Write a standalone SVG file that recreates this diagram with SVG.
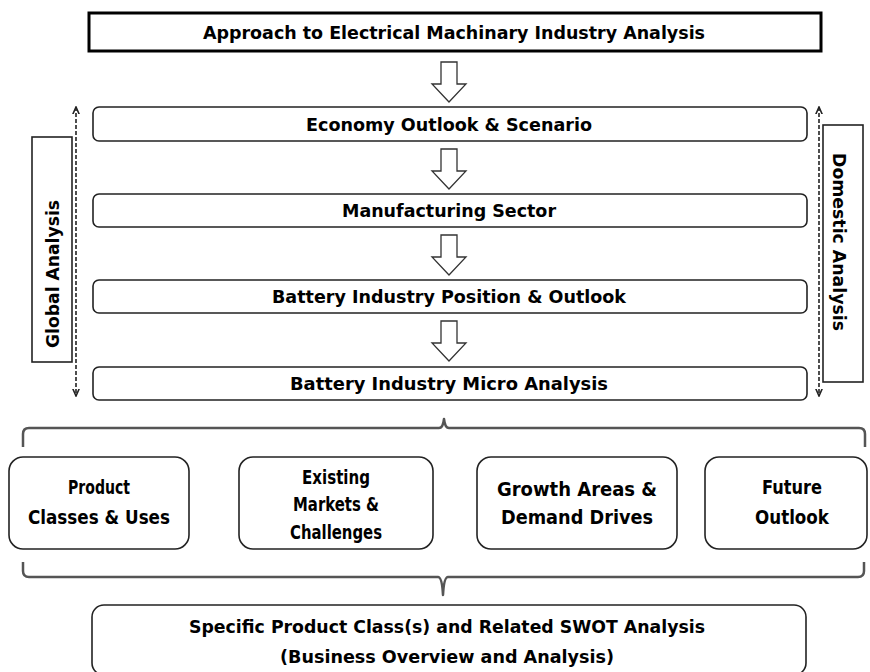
<svg xmlns="http://www.w3.org/2000/svg" width="870" height="672" viewBox="0 0 870 672">
<style>
.t{font-family:"DejaVu Sans Condensed","Liberation Sans Narrow","Liberation Sans",sans-serif;font-weight:bold;font-size:18px;fill:#000;text-anchor:middle}
.s{font-size:19px}
.box{fill:#fff;stroke:#222;stroke-width:1.6}
.dash{stroke:#222;stroke-width:1.6;stroke-dasharray:4 2;fill:none}
.harrow{fill:#fff;stroke:#333;stroke-width:1.3}
.brace{fill:none;stroke:#555;stroke-width:2.5;stroke-linejoin:round}
</style>
<defs>
<marker id="ah" viewBox="0 0 10 10" refX="9" refY="5" markerWidth="8" markerHeight="8" orient="auto-start-reverse" markerUnits="userSpaceOnUse">
<path d="M0,1 L9,5 L0,9" fill="none" stroke="#222" stroke-width="2"/>
</marker>
<path id="hollow" d="M-8,0 H8 V22 H17 L0,40 L-17,22 H-8 Z"/>
</defs>
<rect width="870" height="672" fill="#fff"/>

<g id="title">
<rect x="89" y="13" width="732" height="38" fill="#fff" stroke="#000" stroke-width="3"/>
<text class="t" x="454" y="39" textLength="502" lengthAdjust="spacingAndGlyphs">Approach to Electrical Machinary Industry Analysis</text>
</g>

<g id="economy">
<rect class="box" x="93" y="107" width="714" height="34" rx="6"/>
<text class="t" x="449" y="131" textLength="286" lengthAdjust="spacingAndGlyphs">Economy Outlook &amp; Scenario</text>
</g>
<g id="manufacturing">
<rect class="box" x="93" y="194" width="714" height="33" rx="6"/>
<text class="t" x="449" y="217" textLength="214" lengthAdjust="spacingAndGlyphs">Manufacturing Sector</text>
</g>
<g id="position">
<rect class="box" x="93" y="280" width="714" height="33" rx="6"/>
<text class="t" x="449" y="303" textLength="354" lengthAdjust="spacingAndGlyphs">Battery Industry Position &amp; Outlook</text>
</g>
<g id="micro">
<rect class="box" x="93" y="367" width="714" height="33" rx="6"/>
<text class="t" x="449" y="390" textLength="318" lengthAdjust="spacingAndGlyphs">Battery Industry Micro Analysis</text>
</g>

<g id="global">
<rect x="32" y="137" width="40" height="225" fill="#fff" stroke="#222" stroke-width="1.6"/>
<text class="t" transform="translate(59,274) rotate(-90)" textLength="148" lengthAdjust="spacingAndGlyphs">Global Analysis</text>
</g>
<g id="domestic">
<rect x="823" y="125" width="40" height="257" fill="#fff" stroke="#222" stroke-width="1.6"/>
<text class="t" transform="translate(833,242) rotate(90)" textLength="178" lengthAdjust="spacingAndGlyphs">Domestic Analysis</text>
</g>

<g id="product">
<rect class="box" x="9" y="457" width="180" height="92" rx="14"/>
<text class="t s" x="99" y="494" textLength="62" lengthAdjust="spacingAndGlyphs">Product</text>
<text class="t s" x="99" y="524" textLength="142" lengthAdjust="spacingAndGlyphs">Classes &amp; Uses</text>
</g>
<g id="existing">
<rect class="box" x="239" y="457" width="194" height="92" rx="14"/>
<text class="t s" x="336" y="484" textLength="68" lengthAdjust="spacingAndGlyphs">Existing</text>
<text class="t s" x="336" y="511" textLength="86" lengthAdjust="spacingAndGlyphs">Markets &amp;</text>
<text class="t s" x="336" y="539" textLength="92" lengthAdjust="spacingAndGlyphs">Challenges</text>
</g>
<g id="growth">
<rect class="box" x="477" y="457" width="200" height="92" rx="14"/>
<text class="t s" x="577" y="496" textLength="160" lengthAdjust="spacingAndGlyphs">Growth Areas &amp;</text>
<text class="t s" x="577" y="524" textLength="152" lengthAdjust="spacingAndGlyphs">Demand Drives</text>
</g>
<g id="future">
<rect class="box" x="705" y="457" width="162" height="92" rx="14"/>
<text class="t s" x="792" y="494" textLength="60" lengthAdjust="spacingAndGlyphs">Future</text>
<text class="t s" x="792" y="524" textLength="74" lengthAdjust="spacingAndGlyphs">Outlook</text>
</g>

<g id="swot">
<rect class="box" x="92" y="605" width="714" height="70" rx="12"/>
<text class="t" x="447" y="633" textLength="516" lengthAdjust="spacingAndGlyphs">Specific Product Class(s) and Related SWOT Analysis</text>
<text class="t" x="447" y="663" textLength="334" lengthAdjust="spacingAndGlyphs">(Business Overview and Analysis)</text>
</g>

<g id="connectors">
<use href="#hollow" class="harrow" transform="translate(449,62)"/>
<use href="#hollow" class="harrow" transform="translate(449,149)"/>
<use href="#hollow" class="harrow" transform="translate(449,235)"/>
<use href="#hollow" class="harrow" transform="translate(449,321)"/>
<line class="dash" x1="76" y1="107" x2="76" y2="396" marker-start="url(#ah)" marker-end="url(#ah)"/>
<line class="dash" x1="819" y1="107" x2="819" y2="396" marker-start="url(#ah)" marker-end="url(#ah)"/>
<path class="brace" d="M23,447 V434 Q23,428 29,428 H439 Q443,428 444,419 Q445,428 449,428 H859 Q865,428 865,434 V447"/>
<path class="brace" d="M23,562 V571 Q23,577 29,577 H438 Q442,577 443,595 Q444,577 448,577 H858 Q864,577 864,571 V562"/>
</g>
</svg>
